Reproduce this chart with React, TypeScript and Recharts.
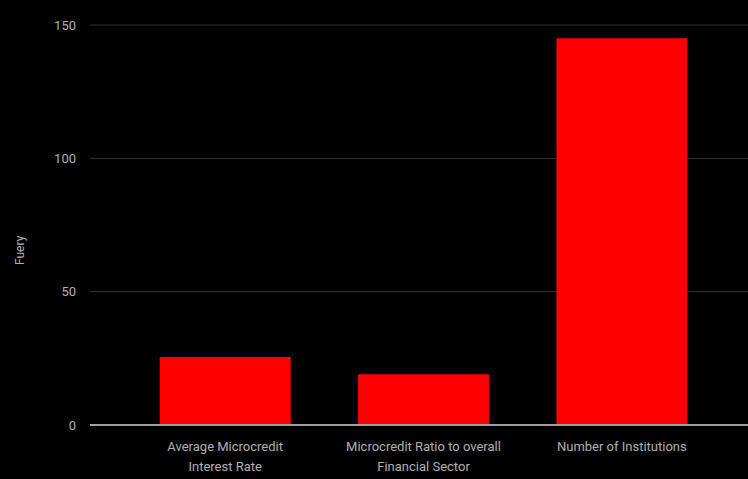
import { BarChart, Bar, XAxis, YAxis, CartesianGrid, ReferenceLine } from "recharts";

const categories = [
  "Average Microcredit\nInterest Rate",
  "Microcredit Ratio to overall\nFinancial Sector",
  "Number of Institutions",
];
const values = [25.5, 19, 145];
const yTicks = [0, 50, 100, 150];
const yLabel = "Fuery";

const data = categories.map((name, i) => ({ name, value: values[i] }));

function CategoryTick(props: any) {
  const { x, y, payload } = props;
  const lines = String(payload.value).split("\n");
  return (
    <g transform={`translate(${x},${y})`}>
      {lines.map((line: string, i: number) => (
        <text
          key={i}
          x={0}
          y={18 + i * 20}
          textAnchor="middle"
          fill="#b0b0b0"
          fontSize={13}
          fontFamily="Roboto, sans-serif"
        >
          {line}
        </text>
      ))}
    </g>
  );
}

export default function App() {
  return (
    <div style={{ position: "fixed", left: 0, top: 0, width: 748, height: 479, background: "#000" }}>
      <BarChart
        width={748}
        height={479}
        data={data}
        margin={{ top: 25, right: 0, left: 0, bottom: 0 }}
        barCategoryGap="17%"
      >
        <CartesianGrid vertical={false} stroke="#333" />
        <XAxis
          dataKey="name"
          height={54}
          axisLine={false}
          tickLine={false}
          padding={{ left: 36, right: 27 }}
          tick={<CategoryTick />}
          interval={0}
        />
        <YAxis
          width={90}
          domain={[0, 150]}
          ticks={yTicks}
          axisLine={false}
          tickLine={false}
          tickMargin={8}
          tick={{ fill: "#b0b0b0", fontSize: 13, fontFamily: "Roboto, sans-serif" }}
          label={{
            value: yLabel,
            angle: -90,
            position: "insideLeft",
            offset: 20,
            dy: 40,
            fill: "#b0b0b0",
            fontSize: 12,
            fontFamily: "Roboto, sans-serif",
          }}
        />
        <ReferenceLine y={0} stroke="#a0a0a0" strokeWidth={2} />
        <Bar dataKey="value" fill="#ff0000" isAnimationActive={false} />
      </BarChart>
    </div>
  );
}
